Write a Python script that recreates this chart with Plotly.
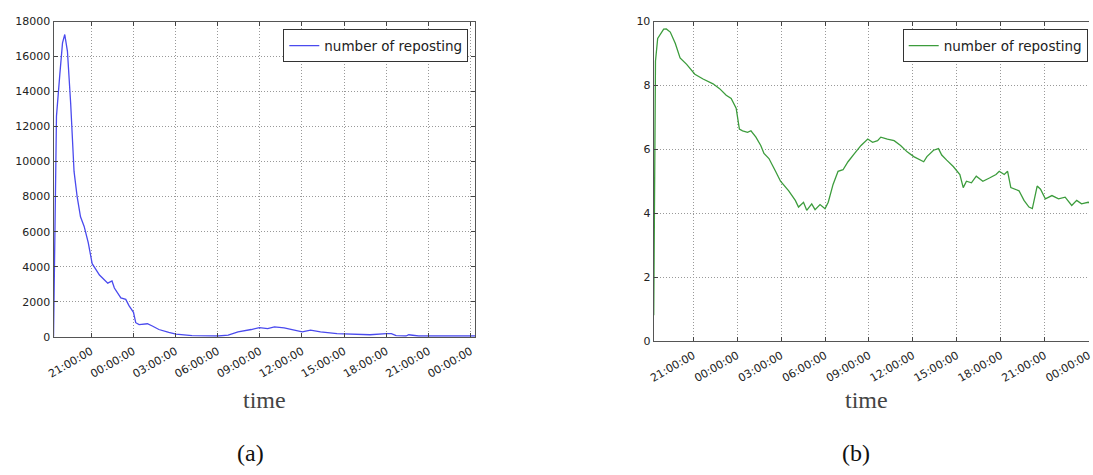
import datetime as dt
import plotly.graph_objects as go

# hours after 18:00 on day 1
hours_a = [0.32, 0.36, 0.40, 0.53, 0.77, 0.96, 1.12, 1.31, 1.54, 1.78, 2.00, 2.24, 2.50, 2.79,
           3.07, 3.59, 4.18, 4.48, 4.65, 5.11, 5.46, 5.70, 6.01, 6.17, 6.41, 7.00, 7.35, 7.82,
           8.52, 9.04, 10.17, 12.04, 12.75, 13.45, 14.39, 14.97, 15.56, 16.04, 16.73, 17.44,
           18.02, 18.61, 19.32, 20.49, 21.66, 22.84, 24.01, 24.36, 24.70, 25.40, 25.60, 26.30, 30.33]
values_a = [0, 2500, 6000, 12600, 15000, 16780, 17260, 16300, 13330, 9440, 8000, 6850, 6300, 5370,
            4170, 3520, 3060, 3180, 2780, 2220, 2130, 1760, 1390, 800, 690, 740, 610, 410,
            240, 150, 60, 40, 90, 280, 410, 520, 460, 560, 500, 370,
            280, 370, 280, 180, 130, 110, 180, 180, 60, 40, 110, 40, 40]

hours_b = [0.30, 0.36, 0.42, 0.57, 0.98, 1.16, 1.43, 1.77, 2.10, 2.55, 3.11, 3.67, 4.35, 4.80,
           5.25, 5.59, 5.93, 6.15, 6.37, 6.71, 6.94, 7.28, 7.61, 7.83, 8.17, 8.62, 8.96, 9.52,
           9.97, 10.19, 10.53, 10.75, 11.09, 11.32, 11.66, 12.00, 12.22, 12.55, 12.89, 13.23,
           13.57, 14.02, 14.46, 14.92, 15.25, 15.59, 15.81, 16.26, 16.72, 17.16, 17.61, 18.06,
           18.51, 18.74, 18.96, 19.41, 19.75, 19.97, 20.31, 20.76, 21.21, 21.44, 21.66, 22.00,
           22.33, 22.78, 23.23, 23.68, 23.90, 24.24, 24.47, 24.69, 25.25, 25.59, 25.93, 26.16,
           26.49, 26.72, 27.05, 27.50, 27.95, 28.40, 28.85, 29.19, 29.52, 29.97, 30.30]
values_b = [0.8, 4.5, 8.76, 9.47, 9.76, 9.77, 9.67, 9.32, 8.86, 8.66, 8.35, 8.20, 8.05, 7.90,
            7.69, 7.59, 7.29, 6.63, 6.58, 6.53, 6.58, 6.38, 6.12, 5.87, 5.71, 5.31, 5.00, 4.70,
            4.40, 4.19, 4.34, 4.09, 4.29, 4.11, 4.27, 4.14, 4.34, 4.90, 5.31, 5.36,
            5.61, 5.87, 6.12, 6.32, 6.22, 6.27, 6.38, 6.32, 6.27, 6.12, 5.92, 5.77,
            5.66, 5.61, 5.77, 5.97, 6.02, 5.82, 5.66, 5.46, 5.21, 4.80, 5.00, 4.95,
            5.16, 5.00, 5.10, 5.21, 5.31, 5.21, 5.31, 4.80, 4.70, 4.40, 4.19, 4.14,
            4.85, 4.75, 4.45, 4.55, 4.45, 4.50, 4.24, 4.40, 4.29, 4.34, 4.30]

legend_text = "number of reposting"
x_title = "time"
panel_labels = ["(a)", "(b)"]

base = dt.datetime(2016, 1, 1, 18, 0, 0)
def to_time(hs):
    return [base + dt.timedelta(hours=h) for h in hs]

W, H = 1093, 475
fig = go.Figure()
fig.add_trace(go.Scatter(x=to_time(hours_a), y=values_a, mode="lines", name=legend_text,
                         line=dict(color="#4a4aee", width=1.3), xaxis="x", yaxis="y", legend="legend"))
fig.add_trace(go.Scatter(x=to_time(hours_b), y=values_b, mode="lines", name=legend_text,
                         line=dict(color="#3c9c3c", width=1.3), xaxis="x2", yaxis="y2", legend="legend2"))

tickfont = dict(family="DejaVu Sans", size=11, color="#222")
common_x = dict(type="date", tickformat="%H:%M:%S", dtick=3 * 3600 * 1000,
                tick0="2016-01-01 21:00:00", tickangle=-30, tickfont=tickfont,
                ticklabeloverflow="allow", ticklabelstandoff=3,
                showgrid=True, gridcolor="#999", griddash="1px,2px", gridwidth=1,
                showline=True, linecolor="#555", linewidth=1.3,
                ticks="inside", ticklen=4, tickcolor="#444", zeroline=False)
common_y = dict(tickfont=tickfont, tickformat="d", showgrid=True, gridcolor="#999", griddash="1px,2px", gridwidth=1,
                showline=True, linecolor="#555", linewidth=1.3,
                ticks="inside", ticklen=4, tickcolor="#444", zeroline=False)

def t(h):
    return base + dt.timedelta(hours=h)

legend_font = dict(family="DejaVu Sans", size=13.5, color="#222")
fig.update_layout(
    width=W, height=H, margin=dict(l=0, r=0, t=0, b=0),
    paper_bgcolor="white", plot_bgcolor="white",
    xaxis=dict(**common_x, domain=[47 / W, 473 / W], range=[t(0.32), t(30.33)], anchor="y", mirror="ticks"),
    yaxis=dict(**common_y, domain=[1 - 340 / H, 1 - 16 / H], range=[0, 18000], dtick=2000, anchor="x", mirror="ticks"),
    xaxis2=dict(**common_x, domain=[653.3 / W, 1.0], range=[t(0.30), t(30.03)], anchor="y2", mirror="ticks"),
    yaxis2=dict(**common_y, domain=[1 - 344.3 / H, 1 - 16 / H], range=[0, 10], dtick=2, anchor="x2"),
    legend=dict(x=466 / W, y=1 - 24 / H, xanchor="right", yanchor="top", bgcolor="white",
                bordercolor="#333", borderwidth=1, font=legend_font),
    legend2=dict(x=1091.7 / W, y=1 - 24 / H, xanchor="right", yanchor="top", bgcolor="white",
                 bordercolor="#333", borderwidth=1, font=legend_font),
    showlegend=True,
)

for xc, txt, yc, col in [(260, x_title, 405, "#444"), (868, x_title, 405, "#444"),
                         (246, panel_labels[0], 460, "#111"), (858, panel_labels[1], 460, "#111")]:
    fig.add_annotation(x=xc / W, y=1 - yc / H, xref="paper", yref="paper", text=txt, showarrow=False,
                       font=dict(family="Liberation Serif", size=24, color=col),
                       xanchor="center", yanchor="middle")

fig.write_html("out.html")
